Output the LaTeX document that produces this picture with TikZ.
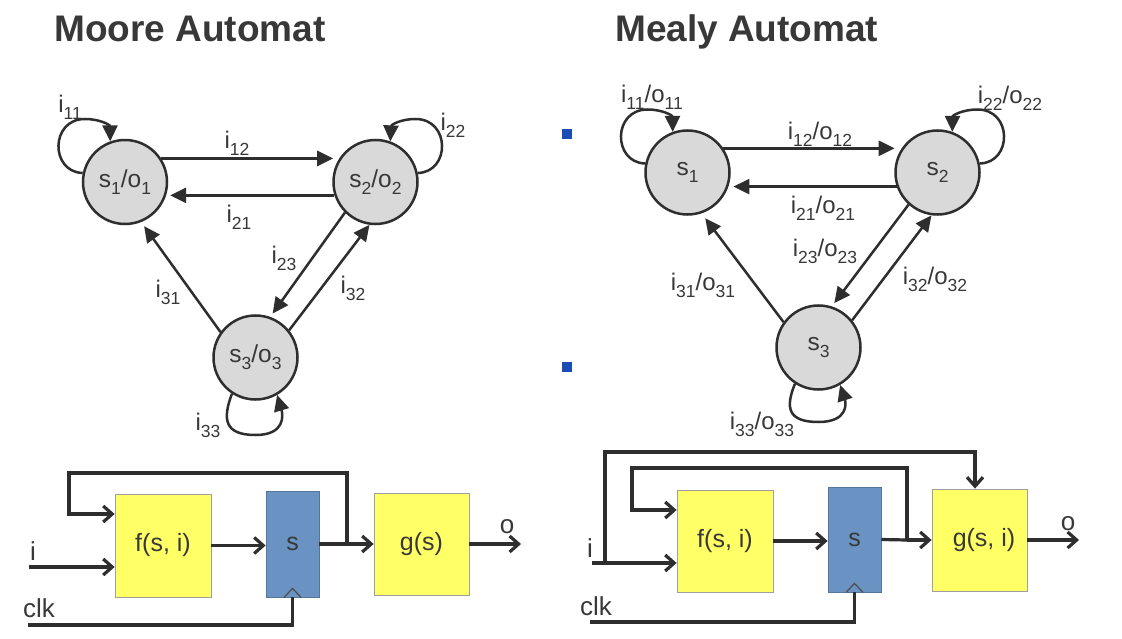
\documentclass[tikz,border=0pt]{standalone}
\usepackage{fontspec}
\setmainfont{Liberation Sans}
\usetikzlibrary{arrows.meta,calc}
\definecolor{ink}{HTML}{2E2E2E}
\definecolor{txt}{HTML}{383838}
\definecolor{stfill}{HTML}{D9D9D9}
\definecolor{yel}{HTML}{FFFF66}
\definecolor{blu}{HTML}{6A93C3}
\definecolor{dotc}{HTML}{1A4DB3}
\newcommand\sbx[1]{\raisebox{-0.3em}{\fontsize{17.5}{17.5}\selectfont #1}}
\begin{document}
\begin{tikzpicture}[x=1pt,y=-1pt,
  state/.style={circle,draw=ink,line width=2.5pt,fill=stfill,minimum size=84pt,inner sep=0pt,text=txt,font=\fontsize{24.5}{24.5}\selectfont},
  sarr/.style={draw=ink,line width=2.5pt,-{Triangle[length=16pt,width=15pt]}},
  lbl/.style={text=txt,font=\fontsize{24}{24}\selectfont,inner sep=0pt},
  ttl/.style={anchor=base west,text=txt,font=\fontsize{37}{37}\selectfont\bfseries,inner sep=0pt},
  ybox/.style={draw=gray!75,line width=0.8pt,fill=yel,minimum width=96pt,minimum height=103pt,text=txt,font=\fontsize{25}{25}\selectfont,inner sep=0pt},
  sreg/.style={draw=blu!80!black,line width=0.8pt,fill=blu,minimum width=53pt,minimum height=106pt,text=txt,font=\fontsize{25}{25}\selectfont,inner sep=0pt},
  barr/.style={draw=ink,line width=3.2pt,-{Straight Barb[length=9pt,width=16pt]}},
  bline/.style={draw=ink,line width=3.2pt},
  blbl/.style={text=txt,font=\fontsize{26}{26}\selectfont,inner sep=0pt},
  clkmark/.style={draw=gray!60!black,line width=1.2pt},
  bullet/.style={fill=dotc,minimum size=10pt,inner sep=0pt}
]
\useasboundingbox (0,0) rectangle (1122,639);
\fill[white] (0,0) rectangle (1122,639);

% titles
\node[ttl] (t1) at (54,42) {Moore Automat};
\node[ttl] (t2) at (615,42) {Mealy Automat};

% bullets
\node[bullet] (b1) at (567,134.5) {};
\node[bullet] (b2) at (567,367) {};

% ---------------- Moore state graph
\node[state] (m1) at (125,182) {s\sbx{1}/o\sbx{1}};
\node[state] (m2) at (375.5,182) {s\sbx{2}/o\sbx{2}};
\node[state] (m3) at (255.5,357.5) {s\sbx{3}/o\sbx{3}};

\draw[sarr,shorten >=6pt] (m1.33) -- (m2.147);
\draw[sarr,shorten >=4pt] (m2.198) -- (m1.-18);
\draw[sarr,shorten >=4pt] (m2.225) -- (m3.70);
\draw[sarr] (m3.39) -- (m2.262);
\draw[sarr,shorten >=5pt] (m3.144) -- (m1.292);
\draw[sarr] (m1.168) .. controls (50,172) and (50,119) .. (85,119) .. controls (100,119) and (110,125) .. (m1.110);
\draw[sarr] (m2.12) .. controls (450.5,172) and (450.5,119) .. (415.5,119) .. controls (400.5,119) and (391,125) .. (m2.70);
\draw[sarr] (m3.237) .. controls (222,420) and (225,435) .. (255.5,435) .. controls (285.5,435) and (283,415) .. (m3.300);

\node[lbl] (l11) at (70,107) {i\sbx{11}};
\node[lbl] (l12) at (237,143) {i\sbx{12}};
\node[lbl] (l21) at (239,217) {i\sbx{21}};
\node[lbl] (l22) at (453,125) {i\sbx{22}};
\node[lbl] (l23) at (284,258) {i\sbx{23}};
\node[lbl] (l31) at (168,292) {i\sbx{31}};
\node[lbl] (l32) at (353,288) {i\sbx{32}};
\node[lbl] (l33) at (208,425) {i\sbx{33}};

% ---------------- Mealy state graph
\node[state] (n1) at (687.5,172.5) {s\sbx{1}};
\node[state] (n2) at (937.5,172.5) {s\sbx{2}};
\node[state] (n3) at (818.5,347.5) {s\sbx{3}};

\draw[sarr,shorten >=7pt] (n1.34) -- (n2.146);
\draw[sarr,shorten >=5pt] (n2.199) -- (n1.-19);
\draw[sarr,shorten >=4pt] (n2.228) -- (n3.72);
\draw[sarr] (n3.39) -- (n2.262);
\draw[sarr,shorten >=6pt] (n3.144) -- (n1.289);
\draw[sarr] (n1.168) .. controls (612.5,162.5) and (612.5,109.5) .. (647.5,109.5) .. controls (662.5,109.5) and (672.5,115.5) .. (n1.110);
\draw[sarr] (n2.12) .. controls (1012.5,162.5) and (1012.5,109.5) .. (977.5,109.5) .. controls (962.5,109.5) and (952.5,115.5) .. (n2.70);
\draw[sarr] (n3.237) .. controls (785,408) and (788,422) .. (818.5,422) .. controls (848.5,422) and (846,403) .. (n3.300);

\node[lbl] (k11) at (652,97) {i\sbx{11}/o\sbx{11}};
\node[lbl] (k12) at (820,134) {i\sbx{12}/o\sbx{12}};
\node[lbl] (k21) at (823,208) {i\sbx{21}/o\sbx{21}};
\node[lbl] (k22) at (1010,98) {i\sbx{22}/o\sbx{22}};
\node[lbl] (k23) at (825,251) {i\sbx{23}/o\sbx{23}};
\node[lbl] (k31) at (703,285) {i\sbx{31}/o\sbx{31}};
\node[lbl] (k32) at (935,279) {i\sbx{32}/o\sbx{32}};
\node[lbl] (k33) at (762,424) {i\sbx{33}/o\sbx{33}};

% ---------------- Moore block diagram
\node[ybox] (mf) at (163,545.5) {f(s, i)};
\node[sreg] (ms) at (292.5,544) {s};
\node[ybox,minimum width=95pt,minimum height=102pt] (mg) at (421.5,544) {g(s)};
\coordinate (mj) at (347,544);
\coordinate (mi) at (29,567);
\coordinate (mc) at (28,625);
\coordinate (mo) at (521,544);

\draw[barr] (mf.east) -- (mf.east -| ms.west);
\draw[bline] (ms.east) -- (mj);
\draw[barr] (mj) -- (mg.west);
\draw[barr] (mj) |- (69,473) |- (mf.west |- 0,514);
\draw[barr] (mi) -- (mi -| mf.west);
\draw[bline] (mc) -| (ms.south);
\draw[clkmark] ([xshift=-8.5pt]ms.south) -- ++(8.5,-9) -- ++(8.5,9);
\draw[barr] (mg.east) -- (mo);

\node[blbl] (mil) at (33,551) {i};
\node[blbl] (mcl) at (39,608) {clk};
\node[blbl] (mol) at (507,527) {o};

% ---------------- Mealy block diagram
\node[ybox,minimum height=102pt] (nf) at (725,541) {f(s, i)};
\node[sreg,minimum height=105pt] (ns) at (854.5,539.5) {s};
\node[ybox,minimum width=95pt,minimum height=102pt] (ng) at (979.5,540) {\hspace*{9pt}g(s, i)};
\coordinate (nj) at (907,540);
\coordinate (ni) at (592,563);
\coordinate (nk) at (605,563);
\coordinate (nc) at (590,622);
\coordinate (no) at (1079,540);

\draw[barr] (nf.east) -- (nf.east -| ns.west);
\draw[bline] (ns.east) -- (nj);
\draw[barr] (nj) -- (ng.west);
\draw[barr] (nj) |- (632,468) |- (nf.west |- 0,510);
\draw[barr] (ni) -- (ni -| nf.west);
\draw[barr] (nk) |- (975,452) -- (ng.north -| 975,0);
\draw[bline] (nc) -| (ns.south);
\draw[clkmark] ([xshift=-8.5pt]ns.south) -- ++(8.5,-9) -- ++(8.5,9);
\draw[barr] (ng.east) -- (no);

\node[blbl] (nil) at (590,548) {i};
\node[blbl] (ncl) at (596,606) {clk};
\node[blbl] (nol) at (1068,524) {o};
\end{tikzpicture}
\end{document}
